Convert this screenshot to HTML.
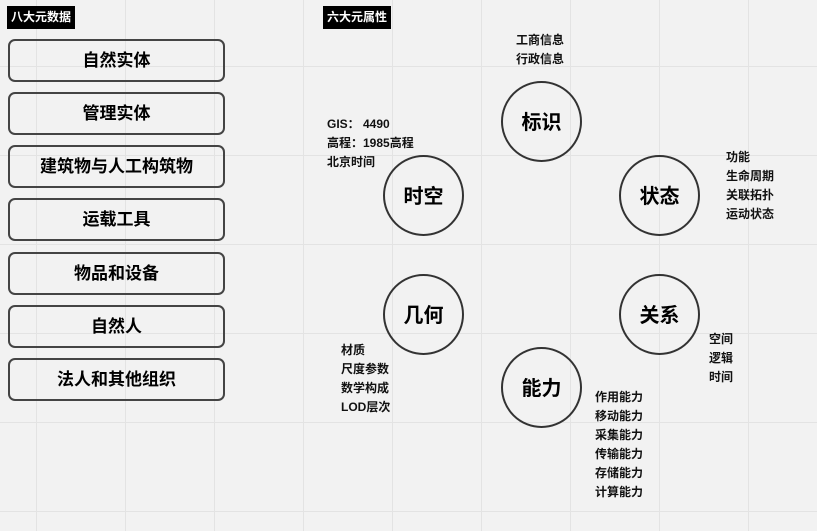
<!DOCTYPE html>
<html><head><meta charset="utf-8"><style>
body{margin:0;width:817px;height:531px;overflow:hidden;background:#f2f2f2;font-family:"Liberation Sans","Noto Sans CJK SC",sans-serif;position:relative;
background-image:linear-gradient(#e3e3e3 1px,transparent 1px),linear-gradient(90deg,#e3e3e3 1px,transparent 1px);background-size:89px 89px;background-position:36px 66px}
.tag{position:absolute;background:#000;color:#fff;font-size:12px;font-weight:bold;height:23px;line-height:23px;padding:0 4px;top:6px}
.box{position:absolute;left:8px;width:213px;height:39px;border:2px solid #444;border-radius:7px;text-align:center;line-height:39px;font-size:17px;font-weight:bold;color:#000}
.c{position:absolute;width:77px;height:77px;border:2px solid #333;border-radius:50%;text-align:center;line-height:81px;font-size:20px;font-weight:bold}
.t{position:absolute;font-size:12px;line-height:19px;font-weight:bold;color:#111}
</style></head><body>
<div class="tag" style="left:7px">八大元数据</div>
<div class="tag" style="left:323px">六大元属性</div>
<div class="box" style="top:39px">自然实体</div>
<div class="box" style="top:92px">管理实体</div>
<div class="box" style="top:145px">建筑物与人工构筑物</div>
<div class="box" style="top:198px">运载工具</div>
<div class="box" style="top:252px">物品和设备</div>
<div class="box" style="top:305px">自然人</div>
<div class="box" style="top:358px">法人和其他组织</div>
<div class="c" style="left:501px;top:81px">标识</div>
<div class="c" style="left:383px;top:155px">时空</div>
<div class="c" style="left:619px;top:155px">状态</div>
<div class="c" style="left:383px;top:274px">几何</div>
<div class="c" style="left:619px;top:274px">关系</div>
<div class="c" style="left:501px;top:347px">能力</div>
<div class="t" style="left:516px;top:31px">工商信息<br>行政信息</div>
<div class="t" style="left:327px;top:115px">GIS： 4490<br>高程：1985高程<br>北京时间</div>
<div class="t" style="left:726px;top:148px">功能<br>生命周期<br>关联拓扑<br>运动状态</div>
<div class="t" style="left:341px;top:341px">材质<br>尺度参数<br>数学构成<br>LOD层次</div>
<div class="t" style="left:709px;top:330px">空间<br>逻辑<br>时间</div>
<div class="t" style="left:595px;top:388px">作用能力<br>移动能力<br>采集能力<br>传输能力<br>存储能力<br>计算能力</div>
</body></html>
